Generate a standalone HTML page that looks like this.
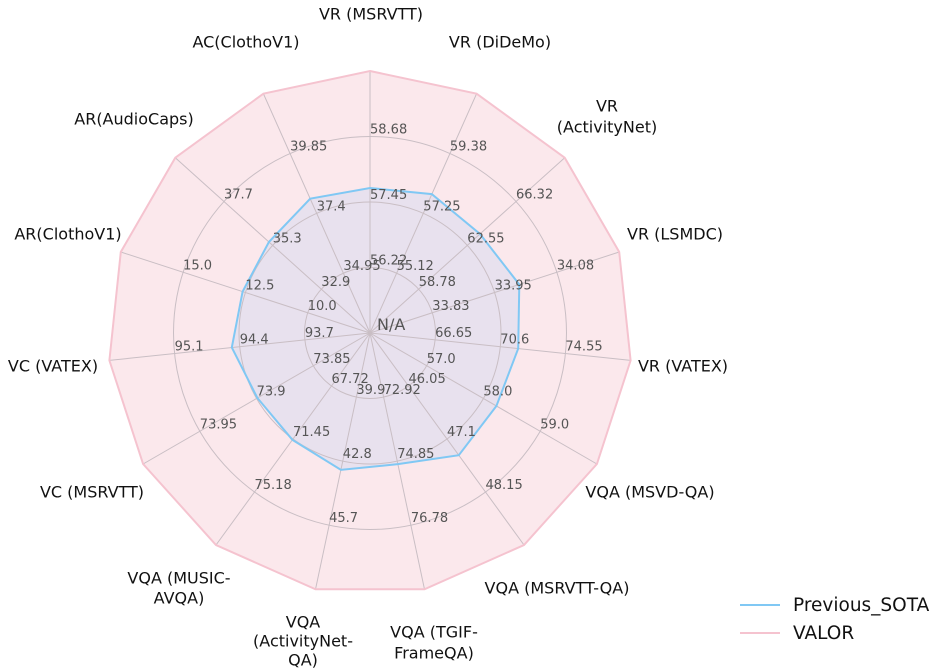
<!DOCTYPE html>
<html><head><meta charset="utf-8"><style>
html,body{margin:0;padding:0;background:#fff;}
svg{display:block;font-family:"DejaVu Sans","Liberation Sans",sans-serif;}
.t{font-size:13px;fill:#555;}
.c{font-size:16px;fill:#111;text-anchor:middle;dominant-baseline:central;}
</style></head><body>
<svg width="936" height="669" viewBox="0 0 936 669" xmlns="http://www.w3.org/2000/svg">
<polygon points="370,71 476.6,93.7 564.7,157.7 619.2,252 630.6,360.4 596.9,464 524,545 424.5,589.3 315.5,589.3 216,545 143.1,464 109.4,360.4 120.8,252 175.3,157.7 263.4,93.7" fill="#fbe8ec" stroke="none"/>
<polygon points="370,188 431.8,194.1 480,234 519.3,284.5 518.2,348.6 496.4,406 458.8,455.2 397.9,464.1 340.9,469.9 292.4,439.8 257.4,398 231.8,347.5 242.6,291.6 268.9,242 310.2,198.7" fill="#e8e1ee" stroke="none"/>
<g stroke="#c9bec4" stroke-width="1" fill="none">
<circle cx="370" cy="333" r="65.5"/><circle cx="370" cy="333" r="131"/><circle cx="370" cy="333" r="196.5"/>
<line x1="370" y1="333" x2="370" y2="71"/><line x1="370" y1="333" x2="476.6" y2="93.7"/><line x1="370" y1="333" x2="564.7" y2="157.7"/><line x1="370" y1="333" x2="619.2" y2="252"/><line x1="370" y1="333" x2="630.6" y2="360.4"/><line x1="370" y1="333" x2="596.9" y2="464"/><line x1="370" y1="333" x2="524" y2="545"/><line x1="370" y1="333" x2="424.5" y2="589.3"/><line x1="370" y1="333" x2="315.5" y2="589.3"/><line x1="370" y1="333" x2="216" y2="545"/><line x1="370" y1="333" x2="143.1" y2="464"/><line x1="370" y1="333" x2="109.4" y2="360.4"/><line x1="370" y1="333" x2="120.8" y2="252"/><line x1="370" y1="333" x2="175.3" y2="157.7"/><line x1="370" y1="333" x2="263.4" y2="93.7"/>
</g>
<polygon points="370,71 476.6,93.7 564.7,157.7 619.2,252 630.6,360.4 596.9,464 524,545 424.5,589.3 315.5,589.3 216,545 143.1,464 109.4,360.4 120.8,252 175.3,157.7 263.4,93.7" fill="none" stroke="#f5c3cf" stroke-width="2"/>
<polygon points="370,188 431.8,194.1 480,234 519.3,284.5 518.2,348.6 496.4,406 458.8,455.2 397.9,464.1 340.9,469.9 292.4,439.8 257.4,398 231.8,347.5 242.6,291.6 268.9,242 310.2,198.7" fill="none" stroke="#80c8f4" stroke-width="2"/>
<g class="t">
<text x="370" y="264.5">56.22</text><text x="370" y="199">57.45</text><text x="370" y="133.5">58.68</text>
<text x="396.6" y="270.2">55.12</text><text x="423.3" y="210.3">57.25</text><text x="449.9" y="150.5">59.38</text>
<text x="418.7" y="286.2">58.78</text><text x="467.3" y="242.3">62.55</text><text x="516" y="198.5">66.32</text>
<text x="432.3" y="309.8">33.83</text><text x="494.6" y="289.5">33.95</text><text x="556.9" y="269.3">34.08</text>
<text x="435.1" y="336.8">66.65</text><text x="500.3" y="343.7">70.6</text><text x="565.4" y="350.5">74.55</text>
<text x="426.7" y="362.8">57.0</text><text x="483.4" y="395.5">58.0</text><text x="540.2" y="428.3">59.0</text>
<text x="408.5" y="383">46.05</text><text x="447" y="436">47.1</text><text x="485.5" y="489">48.15</text>
<text x="383.6" y="394.1">72.92</text><text x="397.2" y="458.1">74.85</text><text x="410.9" y="522.2">76.78</text>
<text x="356.4" y="394.1">39.9</text><text x="342.8" y="458.1">42.8</text><text x="329.1" y="522.2">45.7</text>
<text x="331.5" y="383">67.72</text><text x="293" y="436">71.45</text><text x="254.5" y="489">75.18</text>
<text x="313.3" y="362.8">73.85</text><text x="256.6" y="395.5">73.9</text><text x="199.8" y="428.3">73.95</text>
<text x="304.9" y="336.8">93.7</text><text x="239.7" y="343.7">94.4</text><text x="174.6" y="350.5">95.1</text>
<text x="307.7" y="309.8">10.0</text><text x="245.4" y="289.5">12.5</text><text x="183.1" y="269.3">15.0</text>
<text x="321.3" y="286.2">32.9</text><text x="272.7" y="242.3">35.3</text><text x="224" y="198.5">37.7</text>
<text x="343.4" y="270.2">34.95</text><text x="316.7" y="210.3">37.4</text><text x="290.1" y="150.5">39.85</text>
<text x="377" y="330" style="font-size:16px">N/A</text>
</g>
<g class="c">
<text x="371" y="14">VR (MSRVTT)</text>
<text x="500" y="42">VR (DiDeMo)</text>
<text x="607" y="106">VR</text><text x="607" y="127">(ActivityNet)</text>
<text x="675" y="234">VR (LSMDC)</text>
<text x="683" y="366">VR (VATEX)</text>
<text x="650" y="492">VQA (MSVD-QA)</text>
<text x="557" y="588">VQA (MSRVTT-QA)</text>
<text x="434" y="632">VQA (TGIF-</text><text x="434" y="653">FrameQA)</text>
<text x="303" y="622">VQA</text><text x="303" y="641">(ActivityNet-</text><text x="303" y="660">QA)</text>
<text x="179" y="578">VQA (MUSIC-</text><text x="179" y="598">AVQA)</text>
<text x="92" y="492">VC (MSRVTT)</text>
<text x="53" y="366">VC (VATEX)</text>
<text x="68" y="234">AR(ClothoV1)</text>
<text x="134" y="119">AR(AudioCaps)</text>
<text x="246" y="42">AC(ClothoV1)</text>
</g>
<line x1="740" y1="605" x2="780" y2="605" stroke="#80c8f4" stroke-width="2"/>
<line x1="740" y1="633" x2="780" y2="633" stroke="#f5c3cf" stroke-width="2"/>
<text x="793" y="611" style="font-size:18.5px;fill:#111">Previous_SOTA</text>
<text x="793" y="639" style="font-size:18.5px;fill:#111">VALOR</text>
</svg>
</body></html>
